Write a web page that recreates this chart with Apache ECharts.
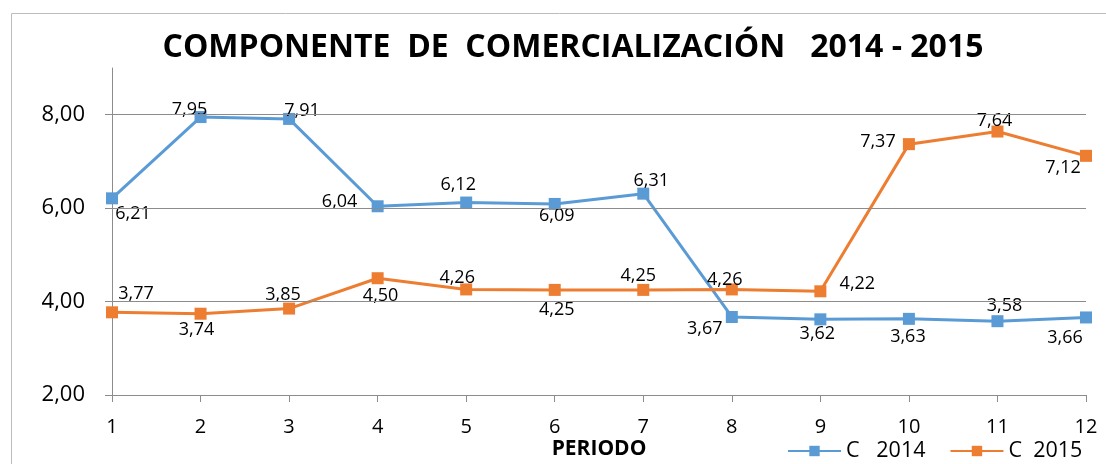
<!DOCTYPE html>
<html>
<head>
<meta charset="utf-8">
<script src="https://cdn.jsdelivr.net/npm/echarts@6/dist/echarts.min.js"></script>
<style>html,body{margin:0;padding:0;background:#fff}#c{width:1106px;height:464px}</style>
</head>
<body>
<div id="c"></div>
<script>
const categories = ['1','2','3','4','5','6','7','8','9','10','11','12'];
const c2014 = [6.21, 7.95, 7.91, 6.04, 6.12, 6.09, 6.31, 3.67, 3.62, 3.63, 3.58, 3.66];
const c2015 = [3.77, 3.74, 3.85, 4.50, 4.26, 4.25, 4.25, 4.26, 4.22, 7.37, 7.64, 7.12];
const yTicks = [2, 4, 6, 8];
const gridValues = [4, 6, 8];
const seriesNames = ['C   2014', 'C  2015'];

// label placement (style only): offset of label centre from point
const off2014 = [[21,16],[-11,-7],[13,-8],[-38,-4],[-8,-18],[2,12],[8,-13],[-27,12],[-3,15],[-1,18],[7,-15],[-21,20]];
const off2015 = [[24,-18],[-4,16],[-6,-14],[3,18],[-9,-12],[2,20],[-5,-14],[-7,-10],[37,-7],[-31,-2],[-3,-11],[-23,12]];

const fmt = v => v.toFixed(2).replace('.', ',');
const FONT = '"Open Sans", sans-serif';

function items(vals, offs) {
  return vals.map((v, i) => ({
    value: v,
    label: { offset: offs[i] }
  }));
}

const chart = echarts.init(document.getElementById('c'), null, {renderer: 'canvas'});
chart.setOption({
  animation: false,
  backgroundColor: '#fff',
  graphic: [{
    type: 'rect', z: -10,
    shape: { x: 11.5, y: 13.5, width: 1200, height: 600 },
    style: { fill: 'none', stroke: '#bcbcbc', lineWidth: 1 }
  }],
  title: {
    text: 'COMPONENTE  DE  COMERCIALIZACIÓN   2014 - 2015',
    left: 568, top: 27, textAlign: 'center',
    textStyle: { fontFamily: FONT, fontWeight: 'bold', fontSize: 32, color: '#000' }
  },
  legend: {
    data: seriesNames,
    left: 787, top: 440, padding: 0,
    itemWidth: 53, itemHeight: 13, itemGap: 24,
    textStyle: { fontFamily: FONT, fontSize: 21.5, color: '#000' }
  },
  grid: { left: 112, right: 20, top: 68, bottom: 69, containLabel: false, outerBoundsMode: 'none' },
  xAxis: {
    type: 'category', data: categories, boundaryGap: false,
    name: 'PERIODO', nameLocation: 'middle', nameGap: 44, nameMoveOverlap: false,
    nameTextStyle: { fontFamily: FONT, fontWeight: 'bold', fontSize: 21, color: '#000' },
    axisLine: { lineStyle: { color: '#8c8c8c', width: 1 } },
    axisTick: { show: true, length: 7, lineStyle: { color: '#8c8c8c' } },
    axisLabel: { fontFamily: FONT, fontSize: 20, color: '#000', margin: 22 },
    splitLine: { show: false }
  },
  yAxis: {
    type: 'value', min: 2, max: 9,
    axisLine: { show: true, lineStyle: { color: '#8c8c8c', width: 1 } },
    axisTick: { show: true, length: 7, customValues: yTicks, lineStyle: { color: '#8c8c8c' } },
    axisLabel: { fontFamily: FONT, fontSize: 22, color: '#000', margin: 27, customValues: yTicks, formatter: fmt },
    splitLine: { show: false }
  },
  series: [
    {
      type: 'line', name: 'grid', data: [], z: 0, silent: true,
      markLine: {
        silent: true, symbol: 'none', animation: false,
        label: { show: false },
        lineStyle: { color: '#8c8c8c', width: 1, type: 'solid' },
        data: gridValues.map(v => ({ yAxis: v }))
      }
    },
    {
      type: 'line', name: seriesNames[0], data: items(c2014, off2014),
      symbol: 'rect', symbolSize: 12, z: 3,
      lineStyle: { color: '#5B9BD5', width: 3 },
      itemStyle: { color: '#5B9BD5' },
      label: { show: true, position: 'inside', formatter: p => fmt(p.value),
               fontFamily: FONT, fontSize: 18, color: '#000' }
    },
    {
      type: 'line', name: seriesNames[1], data: items(c2015, off2015),
      symbol: 'rect', symbolSize: 12, z: 3,
      lineStyle: { color: '#ED7D31', width: 3 },
      itemStyle: { color: '#ED7D31' },
      label: { show: true, position: 'inside', formatter: p => fmt(p.value),
               fontFamily: FONT, fontSize: 18, color: '#000' }
    }
  ]
});
</script>
</body>
</html>
